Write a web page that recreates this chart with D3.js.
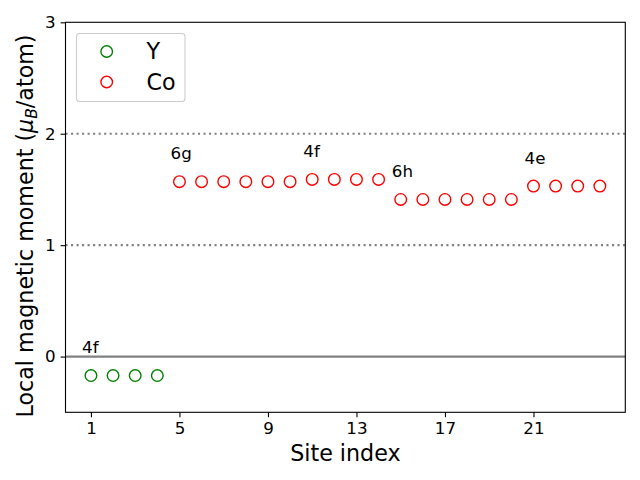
<!DOCTYPE html>
<meta charset="utf-8">

<head>
    <style>
        body { margin: 0; background: white; }
        text { font-family: 'DejaVu Sans', sans-serif; }
        .tick text { font-size: 16.7px; fill: black; }
        .axis-label { font-size: 22.2px; text-anchor: middle; }
        .site-label { font-size: 16.7px; }
        .legend-label { font-size: 22.2px; }
    </style>
</head>

<script src="https://d3js.org/d3.v7.min.js"></script>

<div id="chart"></div>

<script>

    // data
    const ySites = [1, 2, 3, 4];
    const yMoments = [-0.17, -0.17, -0.17, -0.17];

    const coSites = [5, 6, 7, 8, 9, 10, 11, 12, 13, 14, 15, 16, 17, 18, 19, 20, 21, 22, 23, 24];
    const coMoments = [1.57, 1.57, 1.57, 1.57, 1.57, 1.57, 1.59, 1.59, 1.59, 1.59,
        1.41, 1.41, 1.41, 1.41, 1.41, 1.41, 1.53, 1.53, 1.53, 1.53];

    // Wyckoff labels, put at first site of each group
    const wyckoffNames = ["4f", "6g", "4f", "6h", "4e"];
    const wyckoffSites = [1, 5, 11, 15, 21];
    const wyckoffMoments = [-0.17, 1.57, 1.59, 1.41, 1.53];

    const xTicks = [1, 5, 9, 13, 17, 21];
    const yTicks = [0, 1, 2, 3];
    const dottedLevels = [1, 2];

    const margin = { top: 22.3, right: 14.7, bottom: 67.7, left: 65.5 },
        width = 640 - margin.left - margin.right,
        height = 480 - margin.top - margin.bottom;

    const svg = d3.select("#chart")
        .append("svg")
        .attr("width", 640)
        .attr("height", 480)
        .append("g")
        .attr("transform", "translate(" + margin.left + "," + margin.top + ")");

    const x = d3.scaleLinear()
        .domain([-0.15, 25.15])
        .range([0, width]);

    const y = d3.scaleLinear()
        .domain([-0.5, 3])
        .range([height, 0]);

    // reference lines
    svg.selectAll(".dotted")
        .data(dottedLevels)
        .enter()
        .append("line")
        .attr("x1", 0)
        .attr("x2", width)
        .attr("y1", d => y(d))
        .attr("y2", d => y(d))
        .attr("stroke", "grey")
        .attr("stroke-width", 2.08)
        .attr("stroke-dasharray", "2.08,3.44");

    svg.append("line")
        .attr("x1", 0)
        .attr("x2", width)
        .attr("y1", y(0))
        .attr("y2", y(0))
        .attr("stroke", "grey")
        .attr("stroke-width", 2.08);

    // axes
    const xAxis = svg.append("g")
        .attr("transform", "translate(0," + height + ")")
        .call(d3.axisBottom(x).tickValues(xTicks).tickFormat(d3.format("d")).tickSize(4.9).tickPadding(4.9));
    const yAxis = svg.append("g")
        .call(d3.axisLeft(y).tickValues(yTicks).tickFormat(d3.format("d")).tickSize(4.9).tickPadding(4.9));
    [xAxis, yAxis].forEach(g => {
        g.attr("font-family", null).attr("font-size", null);
        g.select(".domain").remove();
        g.selectAll(".tick line").attr("stroke", "black").attr("stroke-width", 1.1);
    });

    // frame
    svg.append("rect")
        .attr("width", width)
        .attr("height", height)
        .attr("fill", "none")
        .attr("stroke", "black")
        .attr("stroke-width", 1.1);

    // markers
    svg.selectAll(".y-pt")
        .data(ySites.map((s, i) => [s, yMoments[i]]))
        .enter()
        .append("circle")
        .attr("cx", d => x(d[0]))
        .attr("cy", d => y(d[1]))
        .attr("r", 5.8)
        .attr("fill", "none")
        .attr("stroke", "green")
        .attr("stroke-width", 1.4);

    svg.selectAll(".co-pt")
        .data(coSites.map((s, i) => [s, coMoments[i]]))
        .enter()
        .append("circle")
        .attr("cx", d => x(d[0]))
        .attr("cy", d => y(d[1]))
        .attr("r", 5.8)
        .attr("fill", "none")
        .attr("stroke", "red")
        .attr("stroke-width", 1.4);

    // site labels
    svg.selectAll(".site-label")
        .data(wyckoffNames)
        .enter()
        .append("text")
        .attr("class", "site-label")
        .attr("x", (d, i) => x(wyckoffSites[i] - 0.4))
        .attr("y", (d, i) => y(wyckoffMoments[i] + 0.2))
        .text(d => d);

    // axis labels
    svg.append("text")
        .attr("class", "axis-label")
        .attr("x", width / 2)
        .attr("y", 461.5 - margin.top)
        .text("Site index");

    const yl = svg.append("text")
        .attr("class", "axis-label")
        .attr("transform", "translate(" + (33 - margin.left) + "," + (226 - margin.top) + ") rotate(-90)");
    yl.append("tspan").text("Local magnetic moment (");
    yl.append("tspan").attr("font-style", "italic").text("μ");
    yl.append("tspan").attr("font-style", "italic").attr("font-size", "15.5px").attr("dy", 3.5).text("B");
    yl.append("tspan").attr("dy", -3.5).text("/atom)");

    // legend
    const legend = svg.append("g")
        .attr("transform", "translate(" + (76.5 - margin.left) + "," + (33.5 - margin.top) + ")");
    legend.append("rect")
        .attr("width", 108.5)
        .attr("height", 68)
        .attr("rx", 3)
        .attr("fill", "white")
        .attr("fill-opacity", 0.8)
        .attr("stroke", "#cccccc")
        .attr("stroke-width", 1.1);
    const legendItems = [["Y", "green"], ["Co", "red"]];
    legendItems.forEach((item, i) => {
        legend.append("circle")
            .attr("cx", 30.2)
            .attr("cy", 18 + i * 30.5)
            .attr("r", 5.8)
            .attr("fill", "none")
            .attr("stroke", item[1])
            .attr("stroke-width", 1.4);
        legend.append("text")
            .attr("class", "legend-label")
            .attr("x", 70)
            .attr("y", 25.5 + i * 30.5)
            .text(item[0]);
    });
</script>
